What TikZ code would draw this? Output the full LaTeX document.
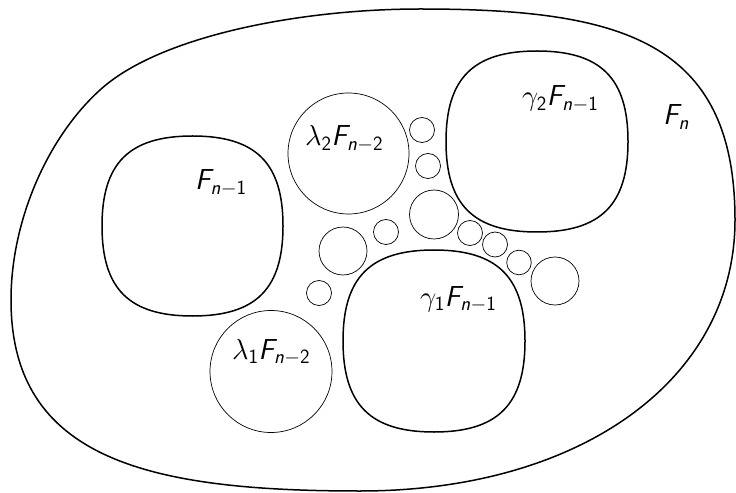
\RequirePackage{fix-cm}
\documentclass[tikz,border=0pt]{standalone}
\usepackage{amsmath}
\usepackage{tikz}
\DeclareMathAlphabet{\mathsfsl}{OT1}{cmss}{m}{sl}
\DeclareMathAlphabet{\mathsfup}{OT1}{cmss}{m}{n}
\newcommand{\Fsub}[1]{\mathsfsl{F}_{#1}}
\newcommand{\nm}[1]{\mathsfsl{n}-\mathsfup{#1}}
% squircle: centre x, centre y, half width, half height
\newcommand{\squircle}[4]{%
  \draw[region] (#1+#3,#2) .. controls (#1+#3,#2+0.7*#4) and (#1+0.7*#3,#2+#4) .. (#1,#2+#4)
    .. controls (#1-0.7*#3,#2+#4) and (#1-#3,#2+0.7*#4) .. (#1-#3,#2)
    .. controls (#1-#3,#2-0.7*#4) and (#1-0.7*#3,#2-#4) .. (#1,#2-#4)
    .. controls (#1+0.7*#3,#2-#4) and (#1+#3,#2-0.7*#4) .. (#1+#3,#2) -- cycle;}
\tikzset{
  region/.style={line width=1.5bp},
  ball/.style={line width=0.7bp},
  lbl/.style={anchor=base west, inner sep=0pt, font=\fontsize{29}{33}\selectfont}
}

\begin{document}
\begin{tikzpicture}[x=1bp,y=-1bp]
  \useasboundingbox (0,0) rectangle (736,493);
  % the whole set
  \draw[region] (11,300) .. controls (11,220) and (48,137) .. (100,90)
    .. controls (159,36) and (300,9) .. (420,9)
    .. controls (620,9) and (735,40) .. (735,220)
    .. controls (735,380) and (580,491) .. (360,491)
    .. controls (150,491) and (11,460) .. (11,300) -- cycle;
  % the three big pieces
  \squircle{192.5}{226}{90.5}{90}
  \squircle{537}{141.5}{91}{90.5}
  \squircle{434}{341}{91}{91}
  % the two round pieces
  \draw[ball] (348.5,153.5) circle (60.5);
  \draw[ball] (271,371.5) circle (61);
  % the small ones
  \foreach \cx/\cy/\r in {422/130/12.5, 428/166/12.5, 434/214.5/24.5, 386/232/12.5,
      343/251/24, 319/293/12.5, 470/233/12.5, 495/244.5/12.5, 519/262.5/12.3, 555/281/24}
    \draw[ball] (\cx,\cy) circle (\r);
  \node[lbl] (fn) at (663,125) {$\Fsub{\mathsfsl{n}}$};
  \node[lbl] (fa) at (195,190) {$\Fsub{\nm{1}}$};
  \node[lbl] (ga) at (522,106) {$\gamma_{\mathsfup{2}}\Fsub{\nm{1}}$};
  \node[lbl] (gb) at (420,306) {$\gamma_{\mathsfup{1}}\Fsub{\nm{1}}$};
  \node[lbl] (la) at (305,146) {$\lambda_{\mathsfup{2}}\Fsub{\nm{2}}$};
  \node[lbl] (lb) at (232,359) {$\lambda_{\mathsfup{1}}\Fsub{\nm{2}}$};
\end{tikzpicture}
\end{document}
